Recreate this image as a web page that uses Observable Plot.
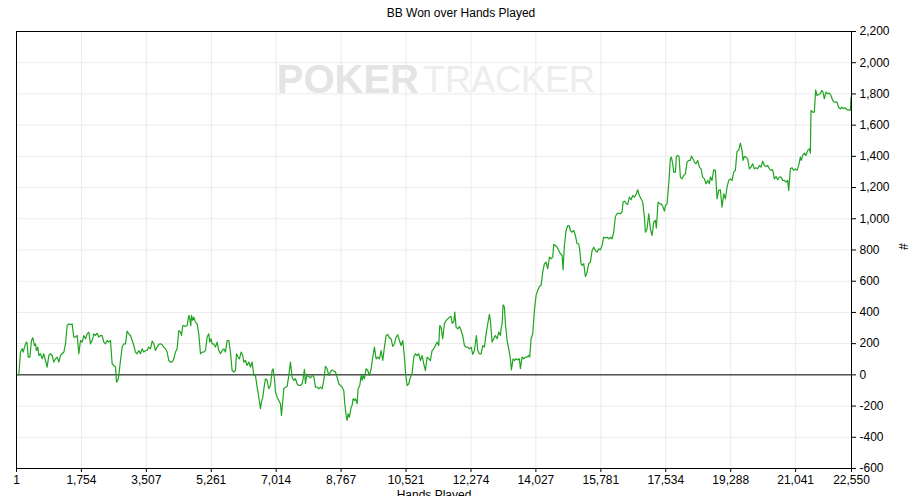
<!DOCTYPE html>
<html><head><meta charset="utf-8">
<script src="https://cdn.jsdelivr.net/npm/d3@7"></script>
<script src="https://cdn.jsdelivr.net/npm/@observablehq/plot@0.6"></script>
<style>body{margin:0;background:#fff;overflow:hidden}</style>
</head><body><div id="chart"></div>
<script>
const hands = [1,64,109,154,181,217,262,289,316,361,406,442,487,514,541,577,604,649,694,739,784,829,874,919,964,1009,1054,1099,1144,1189,1234,1279,1324,1369,1414,1459,1504,1549,1594,1639,1684,1729,1774,1819,1864,1909,1954,1999,2044,2089,2134,2179,2224,2269,2314,2359,2404,2449,2494,2539,2584,2629,2674,2701,2737,2764,2809,2854,2899,2944,2989,3034,3079,3124,3169,3214,3259,3304,3349,3394,3439,3484,3529,3574,3619,3664,3709,
3754,3799,3844,3889,3934,3979,4024,4069,4114,4159,4204,4249,4294,4339,4384,4429,4456,4492,4519,4564,4609,4654,4681,4708,4726,4762,4789,4834,4879,4924,4969,5014,5059,5104,5149,5194,5221,5257,5284,5329,5374,5419,5464,5509,5554,5599,5644,5689,5734,5779,5824,5869,5914,5941,5986,6022,6067,6112,6139,6184,6229,6274,6319,6364,6409,6454,6499,6544,6589,6616,6652,6688,6724,6769,6814,6859,6904,6931,6967,6994,7039,7084,7129,7156,7192,7219,7264,7309,7354,7399,7444,7489,7534,7579,7624,
7669,7714,7741,7777,7804,7831,7849,7894,7939,7984,8029,8074,8119,8164,8209,8254,8299,8344,8389,8434,8479,8524,8569,8614,8659,8704,8749,8794,8839,8866,8902,8929,8956,8992,9037,9064,9091,9127,9154,9199,9226,9271,9307,9334,9361,9397,9442,9487,9532,9577,9622,9667,9712,9757,9802,9847,9892,9937,9982,10027,10072,10117,10162,10207,10252,10297,10342,10387,10432,10477,10513,10549,10594,10639,10684,10729,10774,10819,10864,10909,10954,10999,11044,11089,11134,11179,11224,11269,11314,11359,11404,11431,11467,
11512,11557,11602,11647,11692,11737,11764,11809,11836,11872,11917,11962,12007,12052,12097,12142,12187,12232,12277,12322,12367,12421,12457,12502,12547,12592,12637,12682,12727,12772,12799,12844,12889,12934,12979,13024,13069,13087,13114,13141,13177,13204,13249,13294,13339,13366,13411,13447,13492,13537,13582,13609,13654,13699,13744,13789,13834,13861,13897,13942,13987,14032,14077,14122,14167,14212,14257,14302,14347,14392,14437,14482,14509,14554,14599,14644,14689,14734,14761,14797,14842,14887,14923,14959,14994,15049,15094,15139,15184,15211,15247,15274,15319,
15364,15409,15454,15499,15544,15589,15634,15679,15724,15769,15814,15859,15904,15949,15994,16039,16084,16129,16174,16219,16264,16309,16354,16381,16426,16471,16507,16552,16597,16642,16687,16732,16777,16822,16867,16912,16957,16984,17029,17074,17119,17164,17209,17254,17281,17326,17371,17416,17461,17497,17524,17569,17614,17659,17686,17722,17749,17794,17821,17857,17893,17929,17974,18019,18064,18109,18154,18199,18226,18271,18307,18352,18397,18442,18487,18532,18577,18622,18667,18712,
18739,18784,18829,18874,18919,18964,19009,19054,19099,19144,19189,19234,19279,19324,19369,19414,19459,19504,19549,19594,19621,19657,19702,19747,19792,19837,19882,19927,19972,20017,20062,20107,20152,20197,20242,20287,20332,20377,20422,20467,20512,20557,20602,20647,20692,20737,20782,20827,20854,20899,20944,20989,21034,21079,21124,21169,21196,21232,21277,21322,21367,21412,21439,21457,21502,21547,21583,21619,21664,21709,21745,21781,21817,21862,21907,21952,21997,22042,22087,22132,22159,22204,22249,22294,22339,22384,22429,22474,22519,22537,22550];

const bbWon = [0,2,146,167,146,178,210,203,114,114,220,237,188,199,156,178,124,135,103,135,92,50,124,135,124,82,103,114,82,124,135,146,199,316,327,321,327,242,242,252,135,220,210,252,231,263,274,199,220,263,252,267,242,252,252,210,199,220,210,220,71,60,50,-46,-36,-4,92,178,199,199,280,263,252,220,188,146,135,156,135,167,146,156,156,178,167,216,199,
156,178,195,199,193,178,167,146,92,82,82,103,146,167,284,274,252,316,316,310,316,381,359,316,381,349,370,338,327,263,135,146,146,156,242,263,210,231,199,199,178,210,156,135,156,167,146,220,220,146,28,18,28,135,114,103,146,124,82,92,60,82,50,82,-4,-4,-79,-143,-217,-175,-143,-79,-25,-36,-89,-68,28,39,-25,-111,-143,-164,-185,-260,-164,-89,-79,-75,-4,82,-15,-36,-25,-57,-68,
-68,-57,-25,35,-57,-15,-4,-10,-19,-4,-10,-79,-79,-89,-79,-89,-36,54,39,-4,18,32,24,18,-15,-57,-68,-79,-100,-185,-260,-292,-249,-271,-207,-196,-153,-164,-153,-185,-89,-68,-4,-36,-4,-25,39,28,-4,39,114,178,103,114,103,156,92,178,252,259,237,231,182,199,242,257,220,188,220,114,-4,-68,-57,-15,7,114,135,124,135,92,124,71,28,114,103,92,156,167,188,210,188,316,306,
231,327,348,359,370,374,331,338,402,306,295,310,284,252,188,178,178,167,178,131,156,252,156,135,135,188,178,263,327,387,348,210,231,252,231,274,252,295,327,449,434,327,220,167,103,32,103,92,103,96,103,39,114,103,114,114,124,114,231,263,412,509,541,566,573,658,712,722,680,754,744,754,836,829,818,797,776,765,673,829,925,957,957,925,914,925,893,840,840,801,712,701,712,
630,658,712,722,797,818,797,786,808,801,829,882,878,882,872,882,872,914,1015,1032,1036,1032,1043,1107,1113,1096,1092,1139,1122,1149,1139,1156,1186,1149,1128,1107,1011,914,936,1032,936,893,978,989,942,1107,1096,1096,1075,1049,1085,1096,1224,1384,1395,1352,1299,1299,1401,1406,1399,1267,1256,1278,1288,1363,1374,1374,1401,1384,1363,1352,1374,1331,1320,1267,1256,1224,1246,1224,
1267,1246,1314,1310,1128,1182,1186,1075,1160,1128,1203,1246,1256,1246,1299,1310,1433,1438,1485,1438,1374,1399,1395,1384,1320,1331,1352,1320,1327,1320,1342,1331,1369,1342,1335,1342,1320,1310,1314,1256,1271,1250,1267,1267,1246,1246,1235,1246,1182,1320,1327,1310,1320,1310,1342,1395,1374,1406,1420,1406,1438,1448,1420,1694,1683,1683,1826,1790,1796,1801,1822,1812,1769,1812,1801,1805,1790,1758,1747,1747,1747,1715,1705,1715,1705,1711,1698,1698,1694,1779,1780];

const xTicks = [1,1754,3507,5261,7014,8767,10521,12274,14027,15781,17534,19288,21041,22550];
const yTicks = [-600,-400,-200,0,200,400,600,800,1000,1200,1400,1600,1800,2000,2200];
const titleText = "BB Won over Hands Played";
const xLabel = "Hands Played";
const yLabel = "#";
const wmLeft = "POKER";
const wmRight = "TRACKER";

const data = hands.map((h, i) => ({hand: h, bb: bbWon[i]}));
const fmtY = d => (d < 0 ? "-" : "") + d3.format(",")(Math.abs(d));
const fmtX = d => d3.format(",")(d);
const font = "'Liberation Sans', Arial, sans-serif";

const chart = Plot.plot({
  width: 922,
  height: 496,
  marginLeft: 16,
  marginRight: 71,
  marginTop: 31,
  marginBottom: 28,
  style: {fontFamily: font, fontSize: "12px", color: "#000", background: "#fff", overflow: "hidden"},
  x: {domain: [1, 22550], label: null},
  y: {domain: [-600, 2200], label: null},
  marks: [
    Plot.gridX(xTicks, {stroke: "#ebebeb", strokeOpacity: 1}),
    Plot.gridY(yTicks, {stroke: "#ebebeb", strokeOpacity: 1}),
    Plot.text([wmLeft], {frameAnchor: "top", dx: -15, dy: 49, textAnchor: "end", fontSize: 40, fontWeight: "bold", fill: "#e4e4e4", lineAnchor: "middle", fontFamily: font}),
    Plot.text([wmRight], {frameAnchor: "top", dx: -11, dy: 49, textAnchor: "start", fontSize: 36, fontWeight: "normal", fill: "#ededed", lineAnchor: "middle", fontFamily: font}),
    Plot.ruleY([0], {stroke: "#000", strokeWidth: 1}),
    Plot.line(data, {x: "hand", y: "bb", stroke: "#1fa41f", strokeWidth: 1.2}),
    Plot.frame({stroke: "#000"}),
    Plot.axisX(xTicks, {tickSize: 4, tickPadding: 3, tickFormat: fmtX, label: null, fontSize: 12}),
    Plot.axisY(yTicks, {anchor: "right", tickSize: 4, tickPadding: 4, tickFormat: fmtY, label: null, fontSize: 12}),
    Plot.text([titleText], {frameAnchor: "top", dx: 27, dy: -18, lineAnchor: "middle", fontSize: 12, fill: "#000"}),
    Plot.text([xLabel], {frameAnchor: "bottom", dy: 22, lineAnchor: "top", fontSize: 12, fill: "#000"}),
    Plot.text([yLabel], {frameAnchor: "right", dx: 51, rotate: 90, lineAnchor: "middle", fontSize: 12, fill: "#000"})
  ]
});
document.getElementById("chart").appendChild(chart);
</script>
</body></html>
